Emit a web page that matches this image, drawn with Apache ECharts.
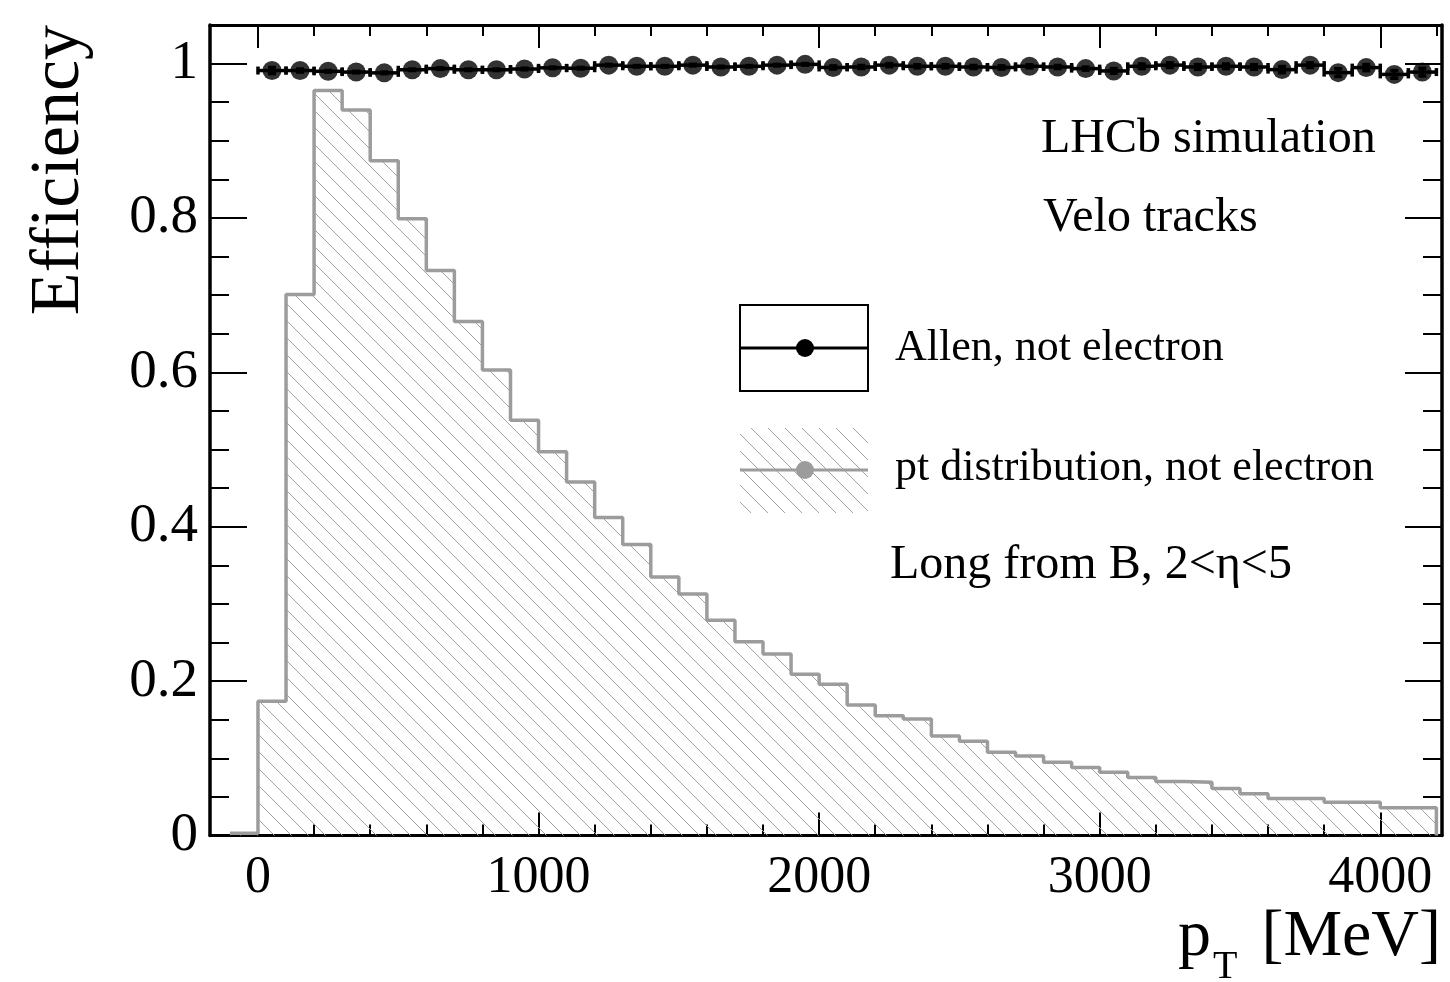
<!DOCTYPE html>
<html>
<head>
<meta charset="utf-8">
<script src="https://cdn.jsdelivr.net/npm/echarts@6/dist/echarts.min.js"></script>
<style>
  html, body { margin: 0; padding: 0; background: #fff; }
  #chart { width: 1450px; height: 982px; }
</style>
</head>
<body>
<div id="chart"></div>
<script>
// pT histogram: lower bin edges plus the final upper edge [MeV]
const ptEdges = [-100, 0, 100, 200, 300, 400, 500, 600, 700, 800, 900,
  1000, 1100, 1200, 1300, 1400, 1500, 1600, 1700, 1800, 1900,
  2000, 2100, 2200, 2300, 2400, 2500, 2600, 2700, 2800, 2900,
  3000, 3100, 3200, 3300, 3400, 3500, 3600, 3700, 3800, 3900,
  4000, 4100, 4200];

// normalised pt distribution of long tracks from B (not electrons)
const ptDist = [0.003, 0.174, 0.701, 0.965, 0.940, 0.874, 0.799, 0.732, 0.666, 0.603, 0.538,
  0.497, 0.458, 0.412, 0.377, 0.335, 0.313, 0.279, 0.251, 0.235, 0.209,
  0.196, 0.169, 0.155, 0.151, 0.129, 0.122, 0.108, 0.103, 0.095, 0.088,
  0.082, 0.075, 0.070, 0.069, 0.061, 0.054, 0.048, 0.048, 0.043, 0.043,
  0.036, 0.036];

// Velo tracking efficiency (Allen), bin centres [MeV]
const effCenters = [50, 150, 250, 350, 450, 550, 650, 750, 850, 950,
  1050, 1150, 1250, 1350, 1450, 1550, 1650, 1750, 1850, 1950,
  2050, 2150, 2250, 2350, 2450, 2550, 2650, 2750, 2850, 2950,
  3050, 3150, 3250, 3350, 3450, 3550, 3650, 3750, 3850, 3950,
  4050, 4150];
const effValues = [0.991, 0.991, 0.990, 0.989, 0.988, 0.992, 0.9935, 0.992, 0.992, 0.993,
  0.9945, 0.994, 0.998, 0.9965, 0.9965, 0.998, 0.9956, 0.9965, 0.998, 0.999,
  0.995, 0.9956, 0.998, 0.9965, 0.9965, 0.9956, 0.995, 0.9965, 0.9956, 0.9935,
  0.9905, 0.9965, 0.998, 0.9956, 0.9965, 0.9956, 0.9922, 0.998, 0.9883, 0.9948,
  0.986, 0.989];
const effErrors = [0.004, 0.002, 0.001, 0.001, 0.001, 0.001, 0.001, 0.001, 0.001, 0.001,
  0.001, 0.001, 0.001, 0.001, 0.001, 0.001, 0.001, 0.001, 0.001, 0.001,
  0.002, 0.002, 0.002, 0.002, 0.002, 0.002, 0.002, 0.002, 0.002, 0.002,
  0.003, 0.003, 0.003, 0.003, 0.003, 0.003, 0.004, 0.003, 0.005, 0.004,
  0.005, 0.005];
const effHalfWidth = 50;

// axis ticks and labels
const xTickValues = [0, 1000, 2000, 3000, 4000];
const xTickLabels = ['0', '1000', '2000', '3000', '4000'];
const xMinorTicks = [200, 400, 600, 800, 1200, 1400, 1600, 1800, 2200, 2400, 2600, 2800,
  3200, 3400, 3600, 3800, 4200];
const yTickValues = [0, 0.2, 0.4, 0.6, 0.8, 1.0];
const yTickLabels = ['0', '0.2', '0.4', '0.6', '0.8', '1'];
const yMinorTicks = [0.05, 0.1, 0.15, 0.25, 0.3, 0.35, 0.45, 0.5, 0.55, 0.65, 0.7, 0.75,
  0.85, 0.9, 0.95];

const X_MIN = -171, X_MAX = 4220, Y_MIN = 0, Y_MAX = 1.05;
const SERIF = "'Liberation Serif', 'Times New Roman', Times, serif";
const HIST_GREY = '#9c9c9c';

// diagonal hatching tile used for the histogram fill
function hatchTile() {
  const s = 17;
  const c = document.createElement('canvas');
  c.width = s; c.height = s;
  const g = c.getContext('2d');
  g.strokeStyle = '#a2a2a2';
  g.lineWidth = 1;
  g.beginPath();
  for (const o of [-s, 0, s]) {
    g.moveTo(o - 1, -1);
    g.lineTo(o + s + 1, s + 1);
  }
  g.stroke();
  return c;
}
const hatch = { image: hatchTile(), repeat: 'repeat' };

function nearestLabel(values, labels, v) {
  let best = 0;
  for (let i = 1; i < values.length; i++) {
    if (Math.abs(values[i] - v) < Math.abs(values[best] - v)) best = i;
  }
  return labels[best];
}

function xAxis(position, showLine, ticks, len, withLabels) {
  return {
    type: 'value', gridIndex: 0, position: position, min: X_MIN, max: X_MAX,
    axisLine: { show: showLine, onZero: false, lineStyle: { color: '#000', width: 3 } },
    axisTick: { show: true, inside: true, length: len, customValues: ticks,
      lineStyle: { color: '#000', width: 2 } },
    axisLabel: withLabels ? {
      show: true, customValues: xTickValues, margin: 17,
      fontFamily: SERIF, fontSize: 52, color: '#000',
      formatter: v => nearestLabel(xTickValues, xTickLabels, v)
    } : { show: false },
    splitLine: { show: false }
  };
}

function yAxis(position, showLine, ticks, len, withLabels) {
  return {
    type: 'value', gridIndex: 0, position: position, min: Y_MIN, max: Y_MAX,
    axisLine: { show: showLine, onZero: false, lineStyle: { color: '#000', width: 3.5 } },
    axisTick: { show: true, inside: true, length: len, customValues: ticks,
      lineStyle: { color: '#000', width: 2 } },
    axisLabel: withLabels ? {
      show: true, customValues: yTickValues, margin: 12,
      fontFamily: SERIF, fontSize: 55, color: '#000',
      formatter: v => nearestLabel(yTickValues, yTickLabels, v)
    } : { show: false },
    splitLine: { show: false }
  };
}

// stepped outline of the histogram, closed down to zero at the last edge
const histPoints = [];
for (let i = 0; i < ptDist.length; i++) histPoints.push([ptEdges[i], ptDist[i]]);
histPoints.push([ptEdges[ptEdges.length - 1], ptDist[ptDist.length - 1]]);
histPoints.push([ptEdges[ptEdges.length - 1], 0]);

const effPoints = effCenters.map((x, i) => [x, effValues[i], effErrors[i]]);

function label(text, x, y, size, align) {
  return {
    type: 'text', x: x, y: y,
    style: { text: text, font: size + 'px ' + SERIF, fill: '#000',
      align: align || 'left', verticalAlign: 'middle',
      textAlign: align || 'left', textVerticalAlign: 'middle' }
  };
}

const chart = echarts.init(document.getElementById('chart'), null, { renderer: 'canvas' });
chart.setOption({
  animation: false,
  backgroundColor: '#fff',
  grid: { left: 210, right: 8, top: 25, bottom: 146.5, containLabel: false, outerBoundsMode: 'none' },
  xAxis: [
    xAxis('bottom', true, xTickValues, 23, true),
    xAxis('bottom', false, xMinorTicks, 11, false),
    xAxis('top', true, xTickValues, 23, false),
    xAxis('top', false, xMinorTicks, 11, false)
  ],
  yAxis: [
    yAxis('left', true, yTickValues, 37, true),
    yAxis('left', false, yMinorTicks, 19, false),
    yAxis('right', true, yTickValues, 37, false),
    yAxis('right', false, yMinorTicks, 19, false)
  ],
  series: [
    {
      name: 'pt distribution, not electron',
      type: 'line', xAxisIndex: 0, yAxisIndex: 0,
      step: 'end', data: histPoints, symbol: 'none', z: 1,
      lineStyle: { color: HIST_GREY, width: 3.5 },
      areaStyle: { color: hatch, opacity: 1 }
    },
    {
      name: 'Allen, not electron errors',
      type: 'custom', xAxisIndex: 0, yAxisIndex: 0, z: 3,
      data: effPoints,
      encode: { x: 0, y: 1 },
      renderItem: function (params, api) {
        const x = api.value(0), y = api.value(1), e = api.value(2);
        const L = api.coord([x - effHalfWidth, y]);
        const R = api.coord([x + effHalfWidth, y]);
        const T = api.coord([x, y + e]);
        const B = api.coord([x, y - e]);
        const st = { stroke: '#000', lineWidth: 3.5 };
        const cap = 4;
        return {
          type: 'group',
          children: [
            { type: 'line', shape: { x1: L[0], y1: L[1], x2: R[0], y2: R[1] }, style: st },
            { type: 'line', shape: { x1: L[0], y1: L[1] - cap, x2: L[0], y2: L[1] + cap }, style: st },
            { type: 'line', shape: { x1: R[0], y1: R[1] - cap, x2: R[0], y2: R[1] + cap }, style: st },
            { type: 'line', shape: { x1: T[0], y1: T[1], x2: B[0], y2: B[1] }, style: st },
            { type: 'line', shape: { x1: T[0] - cap, y1: T[1], x2: T[0] + cap, y2: T[1] }, style: st },
            { type: 'line', shape: { x1: B[0] - cap, y1: B[1], x2: B[0] + cap, y2: B[1] }, style: st }
          ]
        };
      }
    },
    {
      name: 'Allen, not electron',
      type: 'scatter', xAxisIndex: 0, yAxisIndex: 0, z: 4,
      data: effPoints.map(p => [p[0], p[1]]),
      symbol: 'circle', symbolSize: 19,
      itemStyle: { color: '#000' }
    }
  ],
  graphic: [
    // y-axis title
    {
      type: 'text', x: 60, y: 25, rotation: Math.PI / 2,
      style: { text: 'Efficiency', font: '70px ' + SERIF, fill: '#000',
        align: 'right', verticalAlign: 'middle', textAlign: 'right', textVerticalAlign: 'middle' }
    },
    // x-axis title: p_T [MeV]
    label('p', 1178, 960 - 0.3375 * 66, 66),
    label('T', 1213, 981 - 0.3375 * 40, 40),
    label('[MeV]', 1441, 960 - 0.3375 * 66, 66, 'right'),
    // annotations
    label('LHCb simulation', 1041, 139, 48),
    label('Velo tracks', 1043, 218, 48),
    // legend: efficiency entry
    { type: 'rect', shape: { x: 740, y: 305, width: 128, height: 86 },
      style: { fill: 'none', stroke: '#000', lineWidth: 2 } },
    { type: 'line', shape: { x1: 740, y1: 348, x2: 868, y2: 348 },
      style: { stroke: '#000', lineWidth: 3 } },
    { type: 'circle', shape: { cx: 805, cy: 348, r: 9 }, style: { fill: '#000' } },
    label('Allen, not electron', 895, 348, 44),
    // legend: histogram entry
    { type: 'rect', shape: { x: 740, y: 428, width: 128, height: 85 },
      style: { fill: hatch, stroke: 'none' } },
    { type: 'line', shape: { x1: 740, y1: 470, x2: 868, y2: 470 },
      style: { stroke: HIST_GREY, lineWidth: 3 } },
    { type: 'circle', shape: { cx: 805, cy: 470, r: 9 }, style: { fill: HIST_GREY } },
    label('pt distribution, not electron', 895, 468, 44),
    label('Long from B, 2<η<5', 890, 565, 48)
  ]
});
</script>
</body>
</html>
